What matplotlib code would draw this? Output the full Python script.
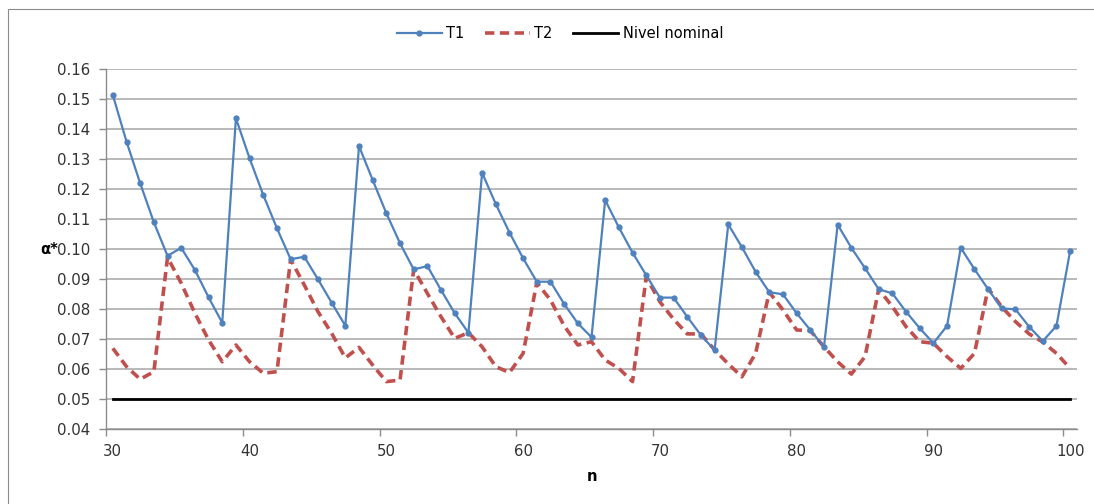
import numpy as np
import matplotlib.pyplot as plt
from matplotlib.patches import Rectangle

# sample sizes n = 30..100
n = list(range(30, 101))

# empirical size alpha* for test T1
t1 = [0.1513, 0.1358, 0.1219, 0.1089, 0.0977, 0.1004, 0.0930, 0.0839, 0.0754, 0.1436,
      0.1302, 0.1180, 0.1069, 0.0966, 0.0974, 0.0899, 0.0821, 0.0744, 0.1343, 0.1230,
      0.1119, 0.1019, 0.0932, 0.0943, 0.0863, 0.0786, 0.0721, 0.1254, 0.1150, 0.1055,
      0.0969, 0.0891, 0.0891, 0.0817, 0.0752, 0.0706, 0.1163, 0.1072, 0.0988, 0.0913,
      0.0838, 0.0838, 0.0774, 0.0713, 0.0663, 0.1082, 0.1006, 0.0924, 0.0856, 0.0849,
      0.0786, 0.0730, 0.0674, 0.1081, 0.1004, 0.0936, 0.0866, 0.0852, 0.0791, 0.0736,
      0.0686, 0.0744, 0.1004, 0.0933, 0.0866, 0.0802, 0.0799, 0.0741, 0.0693, 0.0744,
      0.0994]

# empirical size alpha* for test T2
t2 = [0.0669, 0.0608, 0.0566, 0.0591, 0.0972, 0.0886, 0.0786, 0.0697, 0.0624, 0.0680,
      0.0624, 0.0586, 0.0591, 0.0965, 0.0880, 0.0791, 0.0719, 0.0637, 0.0672, 0.0613,
      0.0558, 0.0563, 0.0932, 0.0852, 0.0774, 0.0702, 0.0721, 0.0674, 0.0608, 0.0588,
      0.0652, 0.0888, 0.0830, 0.0744, 0.0680, 0.0691, 0.0630, 0.0602, 0.0558, 0.0906,
      0.0824, 0.0766, 0.0717, 0.0717, 0.0664, 0.0617, 0.0574, 0.0652, 0.0856, 0.0797,
      0.0730, 0.0728, 0.0674, 0.0624, 0.0583, 0.0641, 0.0866, 0.0808, 0.0741, 0.0691,
      0.0686, 0.0641, 0.0602, 0.0652, 0.0869, 0.0807, 0.0758, 0.0717, 0.0690, 0.0652,
      0.0602]

nominal = [0.05] * len(n)

x_labels = [30, 40, 50, 60, 70, 80, 90, 100]
y_ticks = np.round(np.arange(0.04, 0.1601, 0.01), 2)

fig = plt.figure(figsize=(10.94, 5.04), dpi=100)
ax = fig.add_axes([106 / 1094, 1 - 429 / 504, (1077 - 106) / 1094, (429 - 69) / 504])

# outer chart frame (only left/top visible in the crop)
fig.patches.append(Rectangle((8 / 1094, -0.1), 1.2, 1 - 9 / 504 + 0.1, transform=fig.transFigure,
                             fill=False, edgecolor='#8c8c8c', linewidth=0.8))

ax.plot(n, t1, color='#4f81bd', lw=1.6, marker='o', markersize=3.5, label='T1', zorder=3)
ax.plot(n, t2, color='#c0504d', lw=2.6, dashes=(2.6, 1.5), label='T2', zorder=2)
ax.plot(n, nominal, color='black', lw=2.0, label='Nivel nominal', zorder=2)

ax.set_xlim(29.5, 100.5)
ax.set_ylim(0.04, 0.16)
ax.set_yticks(y_ticks)
ax.set_yticklabels([f'{v:.2f}' for v in y_ticks])
ax.grid(axis='y', color='#a6a6a6', lw=1.1)
ax.set_axisbelow(True)

# category-style axis: tick marks between categories, labels on them
ax.set_xticks([v - 0.5 for v in x_labels])
ax.set_xticklabels([])
ax.set_xticks(x_labels, minor=True)
ax.set_xticklabels([str(v) for v in x_labels], minor=True)
ax.tick_params(axis='x', which='major', length=5, color='#8c8c8c', width=1)
ax.tick_params(axis='x', which='minor', length=0, pad=11, labelsize=10.8, labelcolor='#333333')
ax.tick_params(axis='y', length=5, pad=6, color='#8c8c8c', width=1, labelsize=10.8,
               labelcolor='#333333')

for side in ['top', 'right']:
    ax.spines[side].set_visible(False)
for side in ['left', 'bottom']:
    ax.spines[side].set_color('#8c8c8c')
    ax.spines[side].set_linewidth(1)

ax.set_xlabel('n', fontweight='bold', fontsize=10.5, labelpad=7)
ax.set_ylabel('α*', fontweight='bold', fontsize=10.5, rotation=0, labelpad=6, va='center')

fig.legend(loc='center', bbox_to_anchor=(560 / 1094, 1 - 34 / 504), ncol=3, frameon=False,
           fontsize=10.5, handlelength=3.1, columnspacing=1.4, handletextpad=0.3)

fig.savefig('out.png', dpi=100)
